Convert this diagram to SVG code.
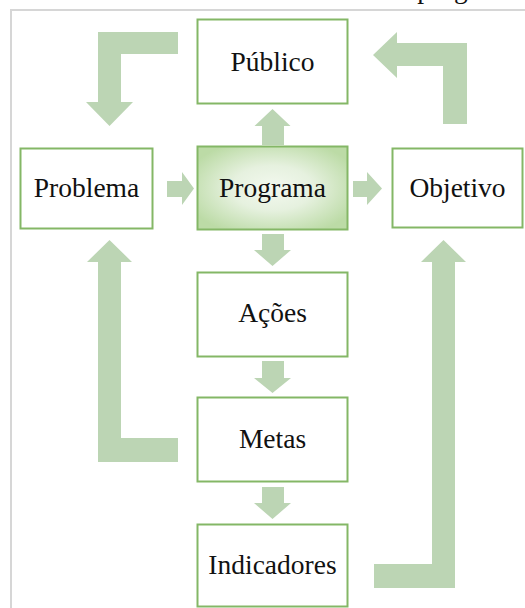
<svg xmlns="http://www.w3.org/2000/svg" width="525" height="608" viewBox="0 0 525 608">
  <style>
    .box { fill: #ffffff; stroke: #84b766; stroke-width: 2; }
    .box-main { fill: url(#glow); stroke: #84b766; stroke-width: 2; }
    .label { font-family: "Liberation Serif", "Times New Roman", serif; font-size: 27.5px; fill: #111111; text-anchor: middle; }
    .arrow { fill: #bcd5b4; stroke: none; }
    .frame { fill: none; stroke: #d6d6d6; stroke-width: 2; }
  </style>
  <defs>
    <radialGradient id="glow" cx="50%" cy="50%" r="60%" gradientUnits="objectBoundingBox">
      <stop offset="0" stop-color="#f3f9ef"/>
      <stop offset="0.45" stop-color="#e6f1df"/>
      <stop offset="1" stop-color="#bcdba6"/>
    </radialGradient>
  </defs>

  <rect width="525" height="608" fill="#ffffff"/>

  <!-- page frame and the clipped caption line above it -->
  <path class="frame" d="M11,608 V10 H525"/>
  <text class="label" x="470" y="-2">programa</text>

  <!-- connectors -->
  <g id="connectors">
    <!-- Público feeds back into Problema -->
    <polygon class="arrow" points="178,32 98,32 98,102 86,102 109.5,126 133,102 121,102 121,54 178,54"/>
    <!-- Objetivo feeds back into Público -->
    <polygon class="arrow" points="467,124 443,124 443,66 397,66 397,78 373,55 397,32 397,43 467,43"/>
    <!-- Programa -> Público -->
    <polygon class="arrow" points="262,145 262,126 254.5,126 272.5,109 290.5,126 284,126 284,145"/>
    <!-- Problema -> Programa -->
    <polygon class="arrow" points="167,181 182,181 182,172 194,188.5 182,205 182,197 167,197"/>
    <!-- Programa -> Objetivo -->
    <polygon class="arrow" points="353,181 367,181 367,172 382,188.5 367,205 367,197 353,197"/>
    <!-- Programa -> Ações -->
    <polygon class="arrow" points="262,234 284,234 284,250 291,250 272.5,266 254,250 262,250"/>
    <!-- Ações -> Metas -->
    <polygon class="arrow" points="262,361 284,361 284,378 291,378 272.5,393 254,378 262,378"/>
    <!-- Metas -> Indicadores -->
    <polygon class="arrow" points="262,487 284,487 284,503 291,503 272.5,519 254,503 262,503"/>
    <!-- Metas -> Problema -->
    <polygon class="arrow" points="178,462 98,462 98,262 87,262 109.5,240 132,262 121,262 121,438 178,438"/>
    <!-- Indicadores -> Objetivo -->
    <polygon class="arrow" points="374,564 432,564 432,262 421,262 443.5,240 466,262 455,262 455,588 374,588"/>
  </g>

  <g id="publico">
    <rect class="box" x="197.5" y="19.5" width="150" height="84"/>
    <text class="label" x="272.5" y="70.5">Público</text>
  </g>
  <g id="problema">
    <rect class="box" x="20.5" y="148.5" width="132" height="80"/>
    <text class="label" x="86.5" y="197">Problema</text>
  </g>
  <g id="programa">
    <rect class="box-main" x="197.5" y="146.5" width="150" height="83"/>
    <text class="label" x="272.5" y="197">Programa</text>
  </g>
  <g id="objetivo">
    <rect class="box" x="392.5" y="148.5" width="130" height="79"/>
    <text class="label" x="457.5" y="197">Objetivo</text>
  </g>
  <g id="acoes">
    <rect class="box" x="197.5" y="272.5" width="150" height="84"/>
    <text class="label" x="272.5" y="322">Ações</text>
  </g>
  <g id="metas">
    <rect class="box" x="197.5" y="397.5" width="150" height="84"/>
    <text class="label" x="272.5" y="447.5">Metas</text>
  </g>
  <g id="indicadores">
    <rect class="box" x="197.5" y="524.5" width="150" height="82"/>
    <text class="label" x="272.5" y="573.5">Indicadores</text>
  </g>
</svg>
